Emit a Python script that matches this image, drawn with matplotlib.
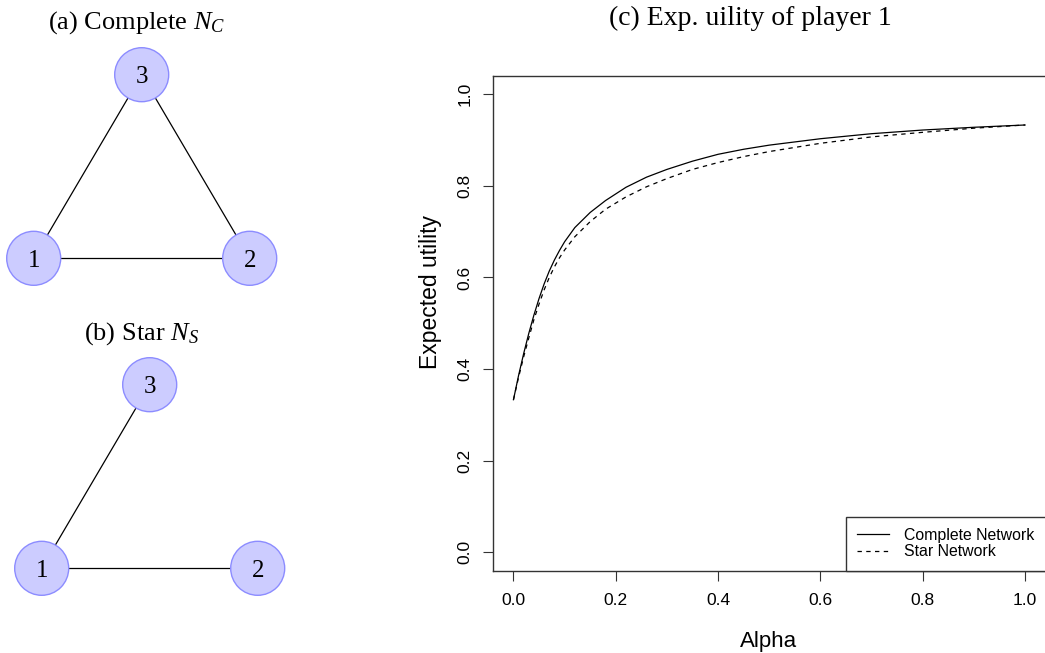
import matplotlib
matplotlib.use("Agg")
import matplotlib.pyplot as plt
from matplotlib.patches import Circle
from matplotlib.lines import Line2D

# ---------------- data ----------------
alpha = [0.00, 0.01, 0.02, 0.03, 0.04, 0.05, 0.06, 0.07, 0.08, 0.09, 0.10,
         0.12, 0.15, 0.18, 0.22, 0.26, 0.30, 0.35, 0.40, 0.45, 0.50, 0.60,
         0.70, 0.80, 0.90, 1.00]
complete_util = [0.333, 0.386, 0.434, 0.478, 0.518, 0.554, 0.586, 0.614, 0.638,
                 0.659, 0.678, 0.709, 0.742, 0.768, 0.797, 0.819, 0.836, 0.854,
                 0.869, 0.880, 0.889, 0.903, 0.914, 0.922, 0.928, 0.933]
star_util = [0.333, 0.382, 0.427, 0.468, 0.508, 0.542, 0.573, 0.600, 0.623,
             0.643, 0.660, 0.689, 0.722, 0.749, 0.776, 0.798, 0.816, 0.836,
             0.851, 0.864, 0.875, 0.893, 0.907, 0.917, 0.926, 0.933]
series_labels = ["Complete Network", "Star Network"]
x_ticks = [0.0, 0.2, 0.4, 0.6, 0.8, 1.0]
y_ticks = [0.0, 0.2, 0.4, 0.6, 0.8, 1.0]

node_labels = ["1", "2", "3"]
node_x = [0.0, 1.0, 0.5]
node_y = [0.0, 0.0, 0.85]
edges_complete = [(0, 1), (0, 2), (1, 2)]
edges_star = [(0, 1), (0, 2)]

# ---------------- style ----------------
plt.rcParams['mathtext.fontset'] = 'custom'
plt.rcParams['mathtext.rm'] = 'Liberation Serif'
plt.rcParams['mathtext.it'] = 'Liberation Serif:italic'
SERIF = 'Liberation Serif'
SANS = 'Liberation Sans'

W, H = 1045, 653
fig = plt.figure(figsize=(W / 100, H / 100), dpi=100)

# ---------------- left: network diagrams (pixel-space axes) ----------------
axn = fig.add_axes([0, 0, 320 / W, 1])
axn.set_xlim(0, 320)
axn.set_ylim(H, 0)
axn.axis('off')

FILL = '#CCCCFF'
EDGE = '#8C8CFF'
R = 27
SCALE = 216


def draw_network(ox, oy, edges):
    px = [ox + x * SCALE for x in node_x]
    py = [oy - y * SCALE for y in node_y]
    for a, b in edges:
        axn.add_line(Line2D([px[a], px[b]], [py[a], py[b]], color='black',
                            lw=0.9, zorder=1))
    for i, lab in enumerate(node_labels):
        axn.add_patch(Circle((px[i], py[i]), R, facecolor=FILL, edgecolor=EDGE,
                             lw=1.0, zorder=2))
        axn.text(px[i], py[i] + 8.5, lab, ha='center', va='baseline',
                 fontsize=18, family=SERIF, zorder=3)


draw_network(33.7, 258.3, edges_complete)
draw_network(41.7, 568.3, edges_star)

fig.text(137 / W, 1 - 28.3 / H, r'(a) Complete $N_C$', ha='center',
         va='baseline', fontsize=19, family=SERIF)
fig.text(141 / W, 1 - 339.3 / H, r'(b) Star $N_S$', ha='center',
         va='baseline', fontsize=19, family=SERIF)

# ---------------- right: expected utility plot ----------------
left, right, top, bottom = 493, 1045.5, 76, 570.5
ax = fig.add_axes([left / W, 1 - bottom / H, (right - left) / W, (bottom - top) / H])
ax.plot(alpha, complete_util, color='black', lw=0.9, label=series_labels[0])
ax.plot(alpha, star_util, color='black', lw=0.9, linestyle=(0, (3.5, 3.5)),
        label=series_labels[1])
ax.set_xlim(-0.04, 1.04)
ax.set_ylim(-0.04, 1.04)

for s in ax.spines.values():
    s.set_color('#333333')
    s.set_linewidth(1.0)
ax.spines['right'].set_visible(False)

ax.set_xticks(x_ticks)
ax.set_xticklabels([f"{v:.1f}" for v in x_ticks], family=SANS, fontsize=12.5)
ax.set_yticks(y_ticks)
ax.set_yticklabels([f"{v:.1f}" for v in y_ticks], family=SANS, fontsize=12.5,
                   rotation=90, va='center')
ax.tick_params(axis='both', direction='out', length=7.5, width=0.8, color='#333333')
ax.tick_params(axis='x', pad=9)
ax.tick_params(axis='y', pad=7)

fig.text(769 / W, 1 - 641 / H, 'Alpha', ha='center', va='center',
         fontsize=16, family=SANS)
fig.text(431 / W, 1 - 292 / H, 'Expected utility', ha='center', va='center',
         rotation=90, fontsize=16.5, family=SANS)

leg = ax.legend(loc='lower right', bbox_to_anchor=(1.0, 0.0), borderaxespad=0,
                prop={'family': SANS, 'size': 11.4}, fancybox=False,
                framealpha=1, edgecolor='#333333', handlelength=2.0,
                handletextpad=0.95, borderpad=0.7, labelspacing=0.1)
leg.get_frame().set_linewidth(1.0)

fig.text(750 / W, 1 - 25 / H, '(c) Exp. uility of player 1', ha='center',
         va='baseline', fontsize=20, family=SERIF)

fig.savefig('out.png', dpi=100)
